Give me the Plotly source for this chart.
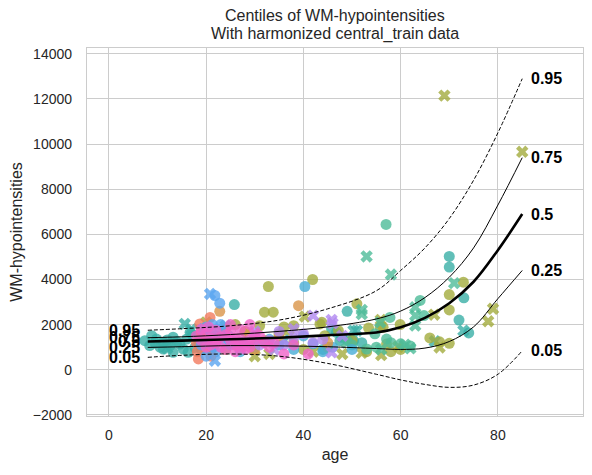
import plotly.graph_objects as go

# centile curves
CURVE_AGE = [8, 15, 25, 35, 45, 55, 60, 65, 70, 75, 80, 85]
CENTILES = ["0.05", "0.25", "0.5", "0.75", "0.95"]
C05 = [550, 640, 700, 600, 280, -200, -450, -650, -780, -680, -200, 840]
C25 = [990, 1020, 1070, 1060, 1020, 940, 900, 960, 1250, 1900, 3150, 4400]
C50 = [1250, 1290, 1350, 1420, 1530, 1650, 1880, 2300, 2950, 3900, 5300, 6900]
C75 = [1420, 1460, 1560, 1700, 1900, 2250, 2600, 3200, 4100, 5400, 7300, 9400]
C95 = [1750, 1820, 1950, 2200, 2700, 3500, 4400, 5400, 6700, 8400, 10500, 12900]

# subjects per site: age, WM-hypointensities, sex (0 = circle, 1 = cross)
TEAL_AGE = [7.4, 8.8, 8.4, 9.8, 11.2, 11.2, 12.6, 13.2, 13.2, 14.6, 15.3, 16, 16.7, 16.3, 17.3, 17.7,
            10.5, 14, 18.5, 19, 9.5, 12, 15.6, 17, 19.5, 12, 20, 24,
            70, 70, 73, 72, 74, 49, 45.8, 47.5, 50.3, 25.8, 46.8, 47.9, 49.2, 44, 52,
            72.9, 67, 50.3, 51]
TEAL_WMH = [1290, 1510, 1070, 1360, 1210, 920, 1070, 1440, 770, 1140, 920, 1360, 1660, 770, 1510, 990,
            1000, 1250, 1200, 900, 1180, 1320, 2030, 1800, 1550, 950, 1000, 1950,
            5020, 4550, 3190, 2200, 1630, 2590, 1810, 1290, 1290, 2890, 1660, 1440, 1290, 900, 1200,
            1730, 1260, 1730, 1730]
TEAL_SEX = [0] * 22 + [1] * 6 + [0] * 15 + [1] * 4

OLIVE_AGE = [41.9, 32.8, 32, 33.8, 51, 72.9, 70, 70, 59.9, 55.8, 56.4, 53.4, 47.2, 43.4, 43.8, 44.4,
             66, 68, 70, 57.1, 22, 24, 28, 30, 35, 38, 40, 45, 50, 53, 58, 60, 19, 26, 36, 38, 31,
             69, 85, 79, 78, 66.9, 55.9, 40.3, 59.5, 68, 37, 42, 48, 52, 56, 30, 33, 20]
OLIVE_WMH = [4000, 3690, 2550, 2550, 2920, 3880, 3330, 2650, 2000, 1880, 1880, 1850, 1730, 2030, 2100, 1510,
             1410, 1240, 1170, 1140, 1300, 900, 1700, 1100, 1600, 1200, 900, 1000, 1300, 800, 800, 900,
             1400, 2000, 1900, 1950, 1950,
             12150, 9660, 2700, 2150, 2440, 2210, 2360, 1020, 990, 1500, 800, 700, 750, 650, 600, 700, 2100]
OLIVE_SEX = [0] * 37 + [1] * 17

GREEN_AGE = [57, 64, 57.8, 64.8, 53, 57.1, 54.7, 55, 58, 60, 62, 50,
             53, 58, 71, 63, 63, 63, 52, 52, 55.8, 60.9, 48.9, 56, 62]
GREEN_WMH = [6440, 3070, 2320, 2400, 920, 1360, 1590, 1000, 1200, 1150, 1050, 1100,
             5020, 4220, 3840, 2770, 2400, 1960, 2650, 2470, 2100, 1110, 1210, 900, 950]
GREEN_SEX = [0] * 12 + [1] * 13

LBLUE_AGE = [40.3, 30, 35, 38, 42, 44, 40, 46, 50, 27, 33, 28, 36]
LBLUE_WMH = [3690, 1000, 1100, 900, 1150, 800, 1500, 1000, 900, 800, 1350, 1200, 1300]
LBLUE_SEX = [0] * 11 + [1] * 2

ORANGE_AGE = [22.8, 39, 20, 19, 21, 24, 26, 28, 32, 35, 45, 30]
ORANGE_WMH = [2590, 2840, 1300, 1600, 900, 1800, 1100, 1700, 1300, 1500, 1200, 900]
ORANGE_SEX = [0] * 12

RED_AGE = [18.7, 18.4, 20.8, 19, 18, 19.5, 18.2, 20, 21]
RED_WMH = [2030, 480, 2320, 1700, 1200, 1000, 800, 1400, 600]
RED_SEX = [0] * 9

BLUE_AGE = [21.8, 22.8, 20, 21, 22, 20.5, 21.5, 23, 24, 19, 22, 20, 25, 23, 21.3,
            20.8, 21.8, 19.5, 24.5]
BLUE_WMH = [3290, 2950, 1900, 1700, 1500, 1200, 1000, 1800, 1300, 1100, 800, 600, 1100, 2000, 2000,
            3360, 400, 1800, 1450]
BLUE_SEX = [0] * 15 + [1] * 4

PURPLE_AGE = [25, 27, 30, 33, 35, 38, 40, 42, 44, 36, 31, 42, 45.8, 46, 45.8, 38, 30, 34, 48]
PURPLE_WMH = [1400, 1200, 1500, 1300, 1700, 1400, 1600, 1200, 1350, 1100, 1100,
              2400, 2210, 2060, 770, 1800, 1700, 900, 1500]
PURPLE_SEX = [0] * 11 + [1] * 8

PINK_AGE = [18, 19, 20, 21, 22, 23, 24, 25, 26, 27, 28, 29, 30, 31, 32, 22, 25, 27, 20, 24, 26, 28,
            23, 21, 26, 29, 33, 34, 36, 38, 41, 25, 19, 20.5, 29, 22, 27, 30]
PINK_WMH = [1500, 1300, 1600, 1400, 1200, 1000, 1550, 1300, 1100, 1400, 1200, 1000, 1300, 1500, 1200,
            1750, 1700, 1800, 1000, 900, 800, 900, 1450, 1100, 1400, 1350, 1000, 1200, 700, 1100, 700,
            2000, 1800, 1900, 2000, 1250, 1000, 1600]
PINK_SEX = [0] * 35 + [1] * 3

SITES = [
    ("teal", "#3aafa6", TEAL_AGE, TEAL_WMH, TEAL_SEX),
    ("olive", "#a2ab3d", OLIVE_AGE, OLIVE_WMH, OLIVE_SEX),
    ("green", "#4dbb98", GREEN_AGE, GREEN_WMH, GREEN_SEX),
    ("lightblue", "#47add6", LBLUE_AGE, LBLUE_WMH, LBLUE_SEX),
    ("orange", "#d99548", ORANGE_AGE, ORANGE_WMH, ORANGE_SEX),
    ("red", "#f27a5e", RED_AGE, RED_WMH, RED_SEX),
    ("blue", "#5aa5f0", BLUE_AGE, BLUE_WMH, BLUE_SEX),
    ("purple", "#b087f0", PURPLE_AGE, PURPLE_WMH, PURPLE_SEX),
    ("pink", "#f063c8", PINK_AGE, PINK_WMH, PINK_SEX),
]

fig = go.Figure()

for name, color, ages, wmh, sex in SITES:
    fig.add_trace(go.Scatter(
        x=ages, y=wmh, mode="markers", name=name, showlegend=False,
        marker=dict(
            color=color, size=11, opacity=0.8, line=dict(width=0),
            symbol=["x" if s else "circle" for s in sex],
        ),
    ))

curves = [C05, C25, C50, C75, C95]
styles = {
    "0.05": dict(width=1, dash="4px,2px"),
    "0.25": dict(width=1),
    "0.5": dict(width=2.6),
    "0.75": dict(width=1),
    "0.95": dict(width=1, dash="4px,2px"),
}
for label, vals in zip(CENTILES, curves):
    fig.add_trace(go.Scatter(
        x=CURVE_AGE, y=vals, mode="lines", line_shape="spline", showlegend=False,
        line=dict(color="black", **styles[label]),
    ))
    fig.add_annotation(x=CURVE_AGE[-1] + 1.4, y=vals[-1], text="<b>%s</b>" % label,
                       showarrow=False, xanchor="left", yanchor="middle",
                       font=dict(size=16, color="black"))
    fig.add_annotation(x=CURVE_AGE[0] - 1.2, y=vals[0], text="<b>%s</b>" % label,
                       showarrow=False, xanchor="right", yanchor="middle",
                       font=dict(size=16, color="black"))

# two-line title, centred over the axes
for text, ypix in [("Centiles of WM-hypointensities", 14), ("With harmonized central_train data", 33)]:
    fig.add_annotation(x=0.5, xref="paper", y=1 + (47 - ypix) / 368, yref="paper",
                       text=text, showarrow=False, xanchor="center", yanchor="middle",
                       font=dict(size=16, color="#262626"))

axis_style = dict(
    showgrid=True, gridcolor="#cccccc", gridwidth=1,
    showline=True, linecolor="#cccccc", linewidth=1.3, mirror=True,
    zeroline=False, ticks="", tickfont=dict(size=14, color="#262626"),
    tickformat="d", automargin=False,
)

fig.update_layout(
    width=592, height=475,
    margin=dict(l=79, r=17, t=40, b=67),
    plot_bgcolor="white", paper_bgcolor="white",
    font=dict(family="Liberation Sans, Arial, sans-serif", color="#262626"),
    xaxis=dict(range=[-4.5, 97.5], tick0=0, dtick=20, ticklabelstandoff=6,
               title=dict(text="age", font=dict(size=16), standoff=6), **axis_style),
    yaxis=dict(range=[-2050, 14260], tick0=0, dtick=2000, ticklabelstandoff=11,
               title=dict(text="WM-hypointensities", font=dict(size=16), standoff=8), **axis_style),
)

fig.write_html("out.html")
